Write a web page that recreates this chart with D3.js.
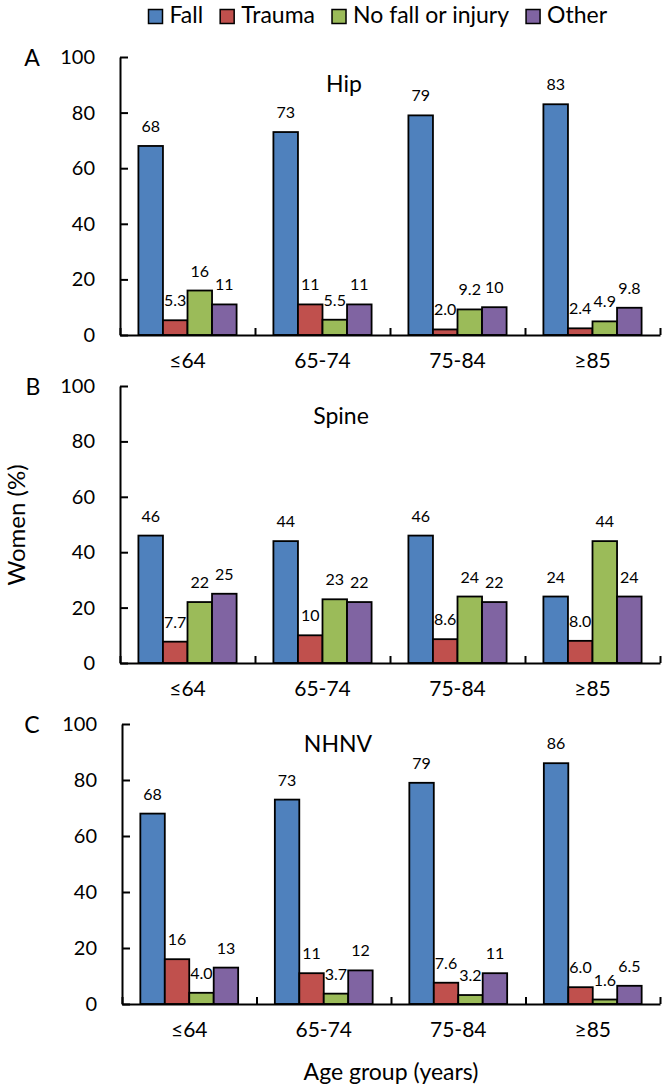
<!DOCTYPE html>
<html>
<head>
<meta charset="utf-8">
<script src="https://cdn.jsdelivr.net/npm/d3@7"></script>
<style>
  html, body { margin: 0; padding: 0; background: #fff; }
  svg { display: block; }
  text { font-family: Lato, "Open Sans", sans-serif; fill: #000; }
</style>
</head>
<body>
<svg id="chart" width="669" height="1090"></svg>
<script>
// ---- data ----
const categories = ["≤64", "65-74", "75-84", "≥85"];
const seriesNames = ["Fall", "Trauma", "No fall or injury", "Other"];
const seriesColors = ["#4F81BD", "#C0504D", "#9BBB59", "#8064A2"];
const yTicks = [0, 20, 40, 60, 80, 100];

const panelLetters = ["A", "B", "C"];
const panelTitles = ["Hip", "Spine", "NHNV"];

// Hip
const hipFall   = [68, 73, 79, 83];
const hipTrauma = [5.3, 11, 2.0, 2.4];
const hipNoFall = [16, 5.5, 9.2, 4.9];
const hipOther  = [11, 11, 10, 9.8];
const hipLabels = {
  fall: ["68", "73", "79", "83"], trauma: ["5.3", "11", "2.0", "2.4"],
  nofall: ["16", "5.5", "9.2", "4.9"], other: ["11", "11", "10", "9.8"]
};
// Spine
const spineFall   = [46, 44, 46, 24];
const spineTrauma = [7.7, 10, 8.6, 8.0];
const spineNoFall = [22, 23, 24, 44];
const spineOther  = [25, 22, 22, 24];
const spineLabels = {
  fall: ["46", "44", "46", "24"], trauma: ["7.7", "10", "8.6", "8.0"],
  nofall: ["22", "23", "24", "44"], other: ["25", "22", "22", "24"]
};
// NHNV
const nhnvFall   = [68, 73, 79, 86];
const nhnvTrauma = [16, 11, 7.6, 6.0];
const nhnvNoFall = [4.0, 3.7, 3.2, 1.6];
const nhnvOther  = [13, 12, 11, 6.5];
const nhnvLabels = {
  fall: ["68", "73", "79", "86"], trauma: ["16", "11", "7.6", "6.0"],
  nofall: ["4.0", "3.7", "3.2", "1.6"], other: ["13", "12", "11", "6.5"]
};

const panelsData = [
  { values: [hipFall, hipTrauma, hipNoFall, hipOther], labels: hipLabels },
  { values: [spineFall, spineTrauma, spineNoFall, spineOther], labels: spineLabels },
  { values: [nhnvFall, nhnvTrauma, nhnvNoFall, nhnvOther], labels: nhnvLabels }
];

// ---- layout ----
const layout = [
  { x0: 120, x1: 660, yTop: 57,  yBot: 335,  titleX: 344, titleY: 92,  letterX: 32 },
  { x0: 120, x1: 660, yTop: 386, yBot: 663,  titleX: 341, titleY: 424, letterX: 33 },
  { x0: 122, x1: 660, yTop: 724, yBot: 1004, titleX: 338, titleY: 752, letterX: 32 }
];

const svg = d3.select("#chart");

panelsData.forEach((pd, pi) => {
  const L = layout[pi];
  const g = svg.append("g");
  const x = d3.scaleBand().domain(categories).range([L.x0, L.x1]).paddingInner(0).paddingOuter(0);
  const xs = d3.scaleBand().domain(d3.range(seriesNames.length)).range([0, x.bandwidth()])
    .paddingInner(0).paddingOuter(0.75);
  const y = d3.scaleLinear().domain([0, 100]).range([L.yBot, L.yTop]);
  const labelKeys = ["fall", "trauma", "nofall", "other"];

  const rows = [];
  pd.values.forEach((vals, si) => {
    vals.forEach((v, ci) => rows.push({ si, ci, v, label: pd.labels[labelKeys[si]][ci] }));
  });

  g.selectAll("rect.bar").data(rows).enter().append("rect")
    .attr("class", "bar")
    .attr("x", d => x(categories[d.ci]) + xs(d.si))
    .attr("width", xs.bandwidth())
    .attr("y", d => y(d.v))
    .attr("height", d => y(0) - y(d.v))
    .attr("fill", d => seriesColors[d.si])
    .attr("stroke", "#000")
    .attr("stroke-width", 1.8);

  g.selectAll("text.val").data(rows).enter().append("text")
    .attr("class", "val")
    .attr("x", d => x(categories[d.ci]) + xs(d.si) + xs.bandwidth() / 2)
    .attr("y", d => y(d.v) - 14)
    .attr("text-anchor", "middle")
    .attr("font-size", 16)
    .text(d => d.label);

  // y axis
  const yAxis = d3.axisLeft(y).tickValues(yTicks).tickSizeInner(-8).tickSizeOuter(0).tickPadding(25);
  const ya = g.append("g").attr("transform", `translate(${L.x0},0)`).call(yAxis);
  ya.selectAll("path, line").attr("stroke", "#000").attr("stroke-width", 2);
  ya.selectAll("text").attr("font-size", 20).attr("font-family", "Lato, sans-serif");

  // x axis boundary ticks
  const xb = d3.scaleLinear().domain([0, categories.length]).range([L.x0, L.x1]);
  const xbAxis = d3.axisBottom(xb).tickValues(d3.range(categories.length + 1)).tickSizeInner(-7).tickSizeOuter(0).tickFormat("");
  const xa = g.append("g").attr("transform", `translate(0,${L.yBot})`).call(xbAxis);
  xa.selectAll("path, line").attr("stroke", "#000").attr("stroke-width", 2);

  // x category labels
  const xlAxis = d3.axisBottom(x).tickSize(0).tickPadding(18);
  const xl = g.append("g").attr("transform", `translate(0,${L.yBot})`).call(xlAxis);
  xl.select("path").remove();
  xl.selectAll("text").attr("font-size", 21).attr("font-family", "Lato, sans-serif");

  // panel title and letter
  g.append("text").attr("x", L.titleX).attr("y", L.titleY)
    .attr("text-anchor", "middle").attr("font-size", 23).text(panelTitles[pi]);
  g.append("text").attr("x", L.letterX).attr("y", L.yTop + 9)
    .attr("text-anchor", "middle").attr("font-size", 23).text(panelLetters[pi]);
});

// axis titles
svg.append("text").attr("transform", "translate(25,525) rotate(-90)")
  .attr("text-anchor", "middle").attr("font-size", 24).text("Women (%)");
svg.append("text").attr("x", 391).attr("y", 1080)
  .attr("text-anchor", "middle").attr("font-size", 23).text("Age group (years)");

// legend
const leg = svg.append("g");
let lx = 148.5;
seriesNames.forEach((name, i) => {
  leg.append("rect").attr("x", lx).attr("y", 9.5).attr("width", 14).attr("height", 14)
    .attr("fill", seriesColors[i]).attr("stroke", "#000").attr("stroke-width", 1.5);
  const t = leg.append("text").attr("x", lx + 21).attr("y", 23).attr("font-size", 23).text(name);
  lx += 21 + t.node().getComputedTextLength() + 17;
});
</script>
</body>
</html>
